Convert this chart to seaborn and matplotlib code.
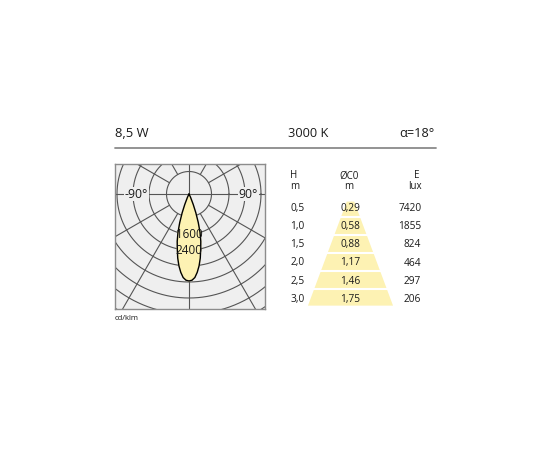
import numpy as np
import matplotlib
matplotlib.use("Agg")
import matplotlib.pyplot as plt
import seaborn as sns

# ---------------- data ----------------
power_label = "8,5 W"
cct_label = "3000 K"
beam_label = "α=18°"

# luminous intensity curve (cd/klm) vs. gamma angle (deg), symmetric
gamma_deg = [0, 2, 4, 6, 8, 10, 12, 14, 16, 18, 20, 22, 25, 28, 30]
intensity = [3480, 3450, 3350, 3150, 2900, 2600, 2250, 1950, 1600, 1200, 800, 450, 150, 30, 0]

# grid rings of the polar diagram (diagram radius units) and their labels
ring_r = [900, 1600, 2240, 2880, 3520, 4160, 4800, 5440, 6080]
ring_label_r = [1600, 2240]
ring_label_txt = ["1600", "2400"]
spoke_deg = [30, 60, 120, 150]

# cone table
height_m = [0.5, 1.0, 1.5, 2.0, 2.5, 3.0]
height_txt = ["0,5", "1,0", "1,5", "2,0", "2,5", "3,0"]
diam_txt = ["0,29", "0,58", "0,88", "1,17", "1,46", "1,75"]
diam_m = [0.29, 0.58, 0.88, 1.17, 1.46, 1.75]
lux_txt = ["7420", "1855", "824", "464", "297", "206"]

# ---------------- style ----------------
sns.set_style("white")
plt.rcParams["font.family"] = ["Open Sans", "DejaVu Sans"]
TXT = "#1a1a1a"
GRID = "#555555"
BG = "#efefef"
YEL = "#fdf2b3"

fig = plt.figure(figsize=(5.5, 4.5), dpi=100)
W, H = 550.0, 450.0

# header
fig.text(115 / W, 1 - 134 / H, power_label, fontsize=9.4, color=TXT, ha="left", va="center")
fig.text(288 / W, 1 - 134 / H, cct_label, fontsize=9.2, color=TXT, ha="left", va="center")
fig.text(434 / W, 1 - 134 / H, beam_label, fontsize=9.2, color=TXT, ha="right", va="center")
fig.add_artist(plt.Line2D([115 / W, 436 / W], [1 - 148 / H, 1 - 148 / H],
                          color="#8a8a8a", lw=1.3, transform=fig.transFigure))

# ---------------- polar diagram ----------------
ax = fig.add_axes([115 / W, 1 - 309 / H, 150 / W, 145 / H])
ax.set_xlim(-2960, 3040)
ax.set_ylim(-4600, 1200)
ax.set_facecolor(BG)
for s in ax.spines.values():
    s.set_color("#8c8c8c")
    s.set_linewidth(1.0)
ax.set_xticks([])
ax.set_yticks([])

t = np.linspace(0, 2 * np.pi, 721)
for r in ring_r:
    ax.plot(r * np.cos(t), r * np.sin(t), color=GRID, lw=0.8, zorder=1)
ax.axhline(0, color=GRID, lw=0.8, zorder=1)
ax.axvline(0, color=GRID, lw=0.8, zorder=1)
r0, r1 = ring_r[0], 9000
for a in spoke_deg:
    for sgn in (-1, 1):
        ar = np.deg2rad(a)
        ax.plot([sgn * r0 * np.sin(ar), sgn * r1 * np.sin(ar)],
                [-r0 * np.cos(ar), -r1 * np.cos(ar)], color=GRID, lw=0.8, zorder=1)

g = np.deg2rad(np.array(gamma_deg, dtype=float))
I = np.array(intensity, dtype=float)
gg = np.concatenate([-g[::-1], g[1:]])
II = np.concatenate([I[::-1], I[1:]])
px = II * np.sin(gg)
py = -II * np.cos(gg)
ax.fill(px, py, color=YEL, zorder=2)
sns.lineplot(x=px, y=py, sort=False, estimator=None, ax=ax, color="black", lw=1.0, zorder=3)

for rr, txt in zip(ring_label_r, ring_label_txt):
    ax.text(0, -rr, txt, ha="center", va="center", fontsize=8.4, color=TXT, zorder=4)
ax.text(-2100, 0, "-90°", ha="center", va="center", fontsize=8.8, color=TXT, zorder=4,
        bbox=dict(facecolor=BG, edgecolor="none", pad=0.3))
ax.text(2380, 0, "90°", ha="center", va="center", fontsize=8.8, color=TXT, zorder=4,
        bbox=dict(facecolor=BG, edgecolor="none", pad=0.3))
ax.set_xlabel("")
ax.set_ylabel("")

fig.text(115 / W, 1 - 318 / H, "cd/klm", fontsize=5.5, color=TXT, ha="left", va="center")

# ---------------- cone table ----------------
tx = fig.add_axes([280 / W, 1 - 312 / H, 160 / W, 147 / H])
tx.set_xlim(-1.522, 1.957)
tx.set_ylim(3.361, -0.722)
tx.axis("off")

ratio = diam_m[-1] / height_m[-1]
hh = np.array([0.28, 3.17])
tx.fill_betweenx(hh, -ratio * hh / 2, ratio * hh / 2, color=YEL, lw=0, zorder=1)
for h in height_m[:-1]:
    tx.axhline(h + 0.22, color="white", lw=1.5, zorder=2)

fs = 7.3
hy1, hy2 = -0.42, -0.12
tx.text(-1.30, hy1, "H", fontsize=7, color=TXT, ha="left", va="center")
tx.text(-1.30, hy2, "m", fontsize=7, color=TXT, ha="left", va="center")
tx.text(-0.02, hy1, "ØC0", fontsize=7, color=TXT, ha="center", va="center")
tx.text(-0.02, hy2, "m", fontsize=7, color=TXT, ha="center", va="center")
tx.text(1.45, hy1, "E", fontsize=7, color=TXT, ha="center", va="center")
tx.text(1.55, hy2, "lux", fontsize=7, color=TXT, ha="right", va="center")
for h, ht, dt, lt in zip(height_m, height_txt, diam_txt, lux_txt):
    tx.text(-1.30, h, ht, fontsize=fs, color=TXT, ha="left", va="center", zorder=3)
    tx.text(0.0, h, dt, fontsize=fs, color=TXT, ha="center", va="center", zorder=3)
    tx.text(1.55, h, lt, fontsize=fs, color=TXT, ha="right", va="center", zorder=3)

fig.savefig("out.png", dpi=100, facecolor="white")
